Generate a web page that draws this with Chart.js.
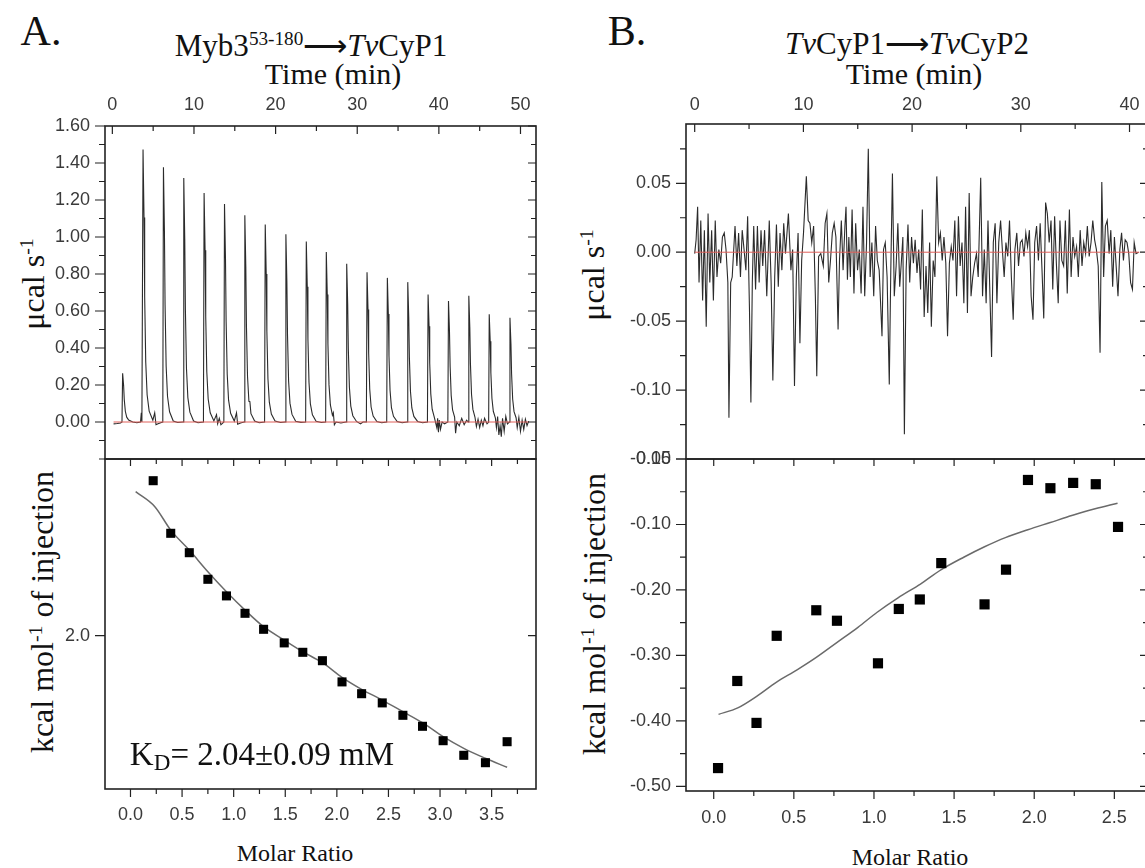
<!doctype html>
<html lang="en">
<head>
<meta charset="utf-8">
<title>ITC</title>
<style>
body{margin:0;width:1145px;height:868px;overflow:hidden;background:#fff;position:relative;font-family:"Liberation Serif","Times New Roman",serif;color:#111}
canvas{position:absolute}
.t{position:absolute;white-space:nowrap;line-height:1;transform:translate(-50%,-50%)}
.t.r{transform:translate(-50%,-50%) rotate(-90deg)}
sup{font-size:0.62em;vertical-align:0.55em;line-height:0}
sub{font-size:0.7em;vertical-align:-0.25em;line-height:0}
</style>
</head>
<body>
<div class="t" style="left:41px;top:31px;font-size:42px">A.</div>
<div class="t" style="left:311px;top:45px;font-size:31px">Myb3<sup>53-180</sup>⟶<i>Tv</i>CyP1</div>
<div class="t" style="left:333px;top:74px;font-size:30px">Time (min)</div>
<div class="t" style="left:627px;top:31px;font-size:42px">B.</div>
<div class="t" style="left:907px;top:43px;font-size:31px"><i>Tv</i>CyP1⟶<i>Tv</i>CyP2</div>
<div class="t" style="left:914px;top:74px;font-size:30px">Time (min)</div>

<div class="t r" style="left:33px;top:284px;font-size:32px">μcal s<sup>-1</sup></div>
<div class="t r" style="left:42px;top:612px;font-size:32px">kcal mol<sup>-1</sup> of injection</div>
<div class="t r" style="left:593px;top:275px;font-size:32px">μcal s<sup>-1</sup></div>
<div class="t r" style="left:594px;top:614px;font-size:32px">kcal mol<sup>-1</sup> of injection</div>

<div class="t" style="left:295px;top:853px;font-size:24px">Molar Ratio</div>
<div class="t" style="left:910px;top:857px;font-size:24px">Molar Ratio</div>

<canvas id="aTop" width="560" height="420" style="left:0;top:80px"></canvas>
<canvas id="aBot" width="560" height="448" style="left:0;top:420px"></canvas>
<canvas id="bTop" width="600" height="420" style="left:580px;top:80px"></canvas>
<canvas id="bBot" width="600" height="448" style="left:580px;top:420px"></canvas>

<div class="t" style="left:262px;top:754px;font-size:33px">K<sub>D</sub>= 2.04±0.09 mM</div>

<script src="https://cdn.jsdelivr.net/npm/chart.js@4.4.0/dist/chart.umd.min.js"></script>
<script>
// raw heat trace, Myb3 -> TvCyP1 (time min, ucal/s)
const aTrace = [
  [0.15,-0.01],[0.6,-0.008],[1.0,-0.005],
  [1.18,0.0],[1.26,0.263],[1.38,0.197],[1.46,0.121],[1.59,0.058],[1.76,0.026],[2.0,0.011],[2.5,0.0],[3.0,-0.004],[3.45,0.0],
  [3.55,0.05],[3.62,0.0],
  [3.76,1.473],[3.88,1.105],[3.96,0.678],[4.09,0.324],[4.26,0.147],[4.51,0.059],[4.96,0.01],
  [5.19,0.05],[5.35,-0.015],[5.6,-0.01],[6.0,-0.003],[6.18,0.0],
  [6.26,1.377],[6.38,1.033],[6.46,0.633],[6.59,0.303],[6.76,0.138],[7.01,0.055],[7.46,0.005],[8.0,-0.003],[8.67,0.0],
  [8.75,1.319],[8.87,0.989],[8.95,0.607],[9.08,0.29],[9.25,0.132],[9.5,0.053],[9.95,0.005],[10.5,-0.004],[11.16,0.0],
  [11.24,1.238],[11.36,0.929],[11.44,0.569],[11.57,0.272],[11.74,0.124],[11.99,0.05],[12.44,0.006],
  [12.76,0.04],[12.9,-0.01],[13.1,0.02],[13.3,-0.015],[13.66,0.0],
  [13.74,1.178],[13.86,0.884],[13.94,0.542],[14.07,0.259],[14.24,0.118],[14.49,0.047],[14.94,0.005],
  [15.21,0.05],[15.35,-0.012],[15.7,-0.005],[16.15,0.0],
  [16.23,1.118],[16.35,0.839],[16.43,0.514],[16.56,0.246],[16.73,0.112],[16.85,0.11],[16.98,0.045],[17.43,0.005],[18.0,-0.004],[18.65,0.0],
  [18.73,1.067],[18.85,0.8],[18.93,0.491],[19.06,0.235],[19.23,0.107],[19.48,0.043],[19.93,0.005],[20.6,-0.003],[21.18,0.0],
  [21.26,1.015],[21.38,0.761],[21.46,0.467],[21.59,0.223],[21.76,0.102],[22.01,0.041],[22.46,0.004],[23.1,-0.002],[23.68,0.0],
  [23.76,0.975],[23.88,0.731],[23.96,0.449],[24.09,0.215],[24.26,0.098],[24.51,0.039],[24.96,0.004],[25.6,-0.003],[26.13,0.0],
  [26.21,0.919],[26.33,0.689],[26.41,0.423],[26.54,0.202],[26.71,0.092],[26.96,0.037],
  [27.07,0.05],[27.2,-0.015],[27.4,0.0],[28.0,-0.005],[28.63,0.0],
  [28.71,0.855],[28.83,0.641],[28.91,0.393],[29.04,0.188],[29.21,0.086],[29.46,0.034],[29.91,0.003],[30.4,-0.01],[30.7,0.0],[31.12,0.0],
  [31.2,0.81],[31.32,0.608],[31.4,0.373],[31.53,0.178],[31.7,0.081],[31.95,0.032],[32.4,0.003],[33.0,-0.004],[33.61,0.0],
  [33.69,0.779],[33.81,0.584],[33.89,0.358],[34.02,0.171],[34.19,0.078],[34.44,0.031],[34.89,0.003],[35.5,-0.004],[36.11,0.0],
  [36.19,0.756],[36.31,0.567],[36.39,0.348],[36.52,0.166],[36.69,0.076],[36.94,0.03],[37.39,0.003],[38.0,-0.004],[38.6,0.0],
  [38.68,0.689],[38.8,0.517],[38.88,0.317],[39.01,0.152],[39.18,0.069],[39.43,0.028],
  [39.75,-0.03],[39.85,0.02],[39.95,-0.055],[40.05,0.01],[40.2,-0.04],[40.4,0.0],[40.7,-0.01],[41.1,0.0],
  [41.18,0.654],[41.3,0.491],[41.38,0.301],[41.51,0.144],[41.68,0.065],[41.93,0.026],
  [42.05,-0.06],[42.2,0.0],[42.5,-0.02],[42.8,0.02],[43.1,-0.015],[43.4,0.01],[43.6,0.0],
  [43.67,0.683],[43.79,0.512],[43.87,0.314],[44.0,0.15],[44.17,0.068],[44.42,0.027],
  [44.6,-0.025],[44.8,0.015],[45.0,-0.03],[45.2,0.01],[45.4,-0.02],[45.6,0.02],[45.9,-0.01],[46.1,0.0],
  [46.17,0.582],[46.29,0.437],[46.37,0.268],[46.5,0.128],[46.67,0.058],[46.92,0.023],
  [47.05,-0.03],[47.2,0.03],[47.35,-0.07],[47.5,-0.02],[47.65,-0.08],[47.8,0.02],[48.0,-0.05],[48.2,0.03],[48.4,-0.01],[48.63,0.0],
  [48.71,0.564],[48.83,0.423],[48.91,0.259],[49.04,0.124],[49.21,0.056],[49.46,0.023],
  [49.6,-0.03],[49.8,0.025],[50.0,-0.05],[50.2,0.01],[50.4,-0.04],[50.6,0.015],[50.8,-0.02],[51.0,0.005]
];
const aBase = [[0.15,0],[51.0,0]];

// integrated heats A
const aRatio = [0.22,0.39,0.57,0.75,0.93,1.11,1.29,1.49,1.67,1.86,2.05,2.24,2.44,2.64,2.83,3.03,3.23,3.44,3.65];
const aHeat = [2.775,2.512,2.415,2.282,2.199,2.112,2.032,1.964,1.917,1.875,1.769,1.710,1.664,1.602,1.547,1.475,1.402,1.365,1.470];
const aFitRatio = [0.05,0.236,0.39,0.57,0.75,0.93,1.11,1.29,1.49,1.67,1.86,2.05,2.24,2.44,2.64,2.83,3.03,3.23,3.44,3.65];
const aFitHeat = [2.72,2.645,2.528,2.428,2.32,2.22,2.128,2.045,1.978,1.92,1.865,1.792,1.732,1.678,1.62,1.565,1.495,1.437,1.387,1.342];

// raw heat trace, TvCyP1 -> TvCyP2
const bTrace = [
  [0.00,-0.001],[0.13,0.009],[0.27,0.033],[0.40,-0.022],[0.56,0.023],[0.73,-0.035],[0.89,0.016],[1.06,-0.054],[1.23,0.028],[1.39,-0.022],
  [1.56,0.016],[1.72,-0.035],[1.89,0.023],[2.05,-0.018],[2.22,0.002],[2.39,-0.008],[2.55,0.011],[2.72,0.014],[2.88,0.002],[3.05,-0.022],
  [3.15,-0.120],[3.31,-0.022],[3.45,-0.018],[3.71,0.019],[3.88,-0.010],[4.04,0.014],[4.21,-0.018],[4.37,0.016],[4.54,0.002],[4.71,-0.013],
  [4.87,0.026],[5.04,-0.042],[5.17,-0.109],[5.30,-0.022],[5.43,0.019],[5.60,-0.027],[5.77,0.019],[5.93,-0.022],[6.10,0.016],[6.26,-0.010],
  [6.43,0.016],[6.63,-0.032],[6.86,0.023],[7.03,-0.022],[7.19,-0.093],[7.36,-0.018],[7.52,0.020],[7.69,-0.025],[7.85,0.014],[8.02,-0.013],
  [8.19,0.021],[8.35,-0.001],[8.62,0.028],[8.85,-0.013],[9.01,0.002],[9.18,-0.097],[9.35,-0.018],[9.51,0.014],[9.68,-0.066],[9.84,-0.006],
  [10.01,0.014],[10.27,0.055],[10.44,0.023],[10.60,0.021],[10.77,0.007],[10.94,0.019],[11.10,-0.032],[11.23,-0.090],[11.40,-0.003],[11.60,-0.001],
  [11.83,-0.010],[12.00,0.021],[12.16,0.028],[12.33,-0.022],[12.49,-0.006],[12.66,0.014],[12.83,0.021],[12.99,0.011],[13.19,-0.056],[13.32,-0.006],
  [13.49,0.023],[13.65,-0.013],[13.82,0.019],[13.92,0.033],[14.05,-0.020],[14.18,0.011],[14.32,-0.018],[14.48,0.031],[14.65,-0.030],[14.81,0.021],
  [14.98,-0.013],[15.14,0.002],[15.31,-0.030],[15.48,0.033],[15.64,-0.032],[15.81,0.007],[15.97,0.075],[16.14,-0.018],[16.30,0.007],[16.47,-0.032],
  [16.64,0.019],[16.80,-0.006],[16.97,-0.013],[17.23,-0.061],[17.37,0.002],[17.53,0.007],[17.70,-0.018],[17.90,-0.096],[18.03,-0.018],[18.19,0.057],
  [18.36,-0.032],[18.53,-0.010],[18.69,0.021],[18.86,-0.025],[19.02,-0.006],[19.15,0.011],[19.29,-0.132],[19.45,-0.013],[19.62,0.020],[19.78,-0.022],
  [19.95,0.011],[20.12,-0.008],[20.28,0.009],[20.45,-0.015],[20.61,0.002],[20.78,-0.027],[20.94,0.031],[21.11,-0.047],[21.28,-0.010],[21.44,-0.044],
  [21.61,0.007],[21.77,-0.054],[21.94,-0.006],[22.10,-0.018],[22.27,0.055],[22.44,0.007],[22.60,0.014],[22.77,-0.006],[22.93,0.011],[23.10,-0.008],
  [23.26,-0.061],[23.43,-0.008],[23.60,0.004],[23.76,-0.006],[23.93,0.023],[24.09,-0.032],[24.26,0.026],[24.42,-0.010],[24.59,0.007],[24.76,-0.037],
  [24.92,0.033],[25.09,-0.044],[25.25,0.043],[25.42,-0.032],[25.58,-0.018],[25.75,-0.008],[25.92,-0.001],[26.08,-0.018],[26.31,0.054],[26.48,-0.032],
  [26.64,0.002],[26.81,-0.037],[26.98,0.023],[27.14,-0.025],[27.31,-0.076],[27.47,0.007],[27.64,0.021],[27.80,-0.037],[27.97,0.007],[28.14,0.023],
  [28.30,0.002],[28.47,-0.018],[28.63,0.007],[28.80,-0.003],[28.96,0.023],[29.13,-0.018],[29.30,-0.049],[29.46,0.002],[29.63,0.014],[29.79,-0.010],
  [29.96,0.007],[30.12,0.009],[30.29,-0.003],[30.46,0.014],[30.62,0.004],[30.79,0.016],[30.95,-0.032],[31.12,-0.049],[31.28,0.007],[31.45,0.019],
  [31.62,-0.006],[31.78,0.021],[31.95,-0.013],[32.11,-0.048],[32.28,0.036],[32.44,0.028],[32.61,0.007],[32.78,0.023],[32.94,-0.027],[33.11,0.026],
  [33.27,-0.008],[33.44,-0.037],[33.60,0.023],[33.77,-0.006],[33.94,-0.010],[34.10,0.023],[34.27,-0.030],[34.47,0.031],[34.63,-0.018],[34.80,0.011],
  [34.96,-0.003],[35.13,0.004],[35.29,-0.018],[35.46,0.016],[35.63,-0.010],[35.79,0.007],[35.96,-0.001],[36.12,0.019],[36.29,-0.003],[36.46,0.007],
  [36.62,0.023],[36.79,0.009],[36.95,0.002],[37.12,-0.010],[37.29,-0.073],[37.45,0.051],[37.62,-0.018],[37.78,0.019],[37.95,0.023],[38.12,-0.001],
  [38.28,0.016],[38.45,-0.025],[38.61,0.011],[38.77,-0.010],[38.94,-0.032],[39.11,0.002],[39.27,0.014],[39.44,-0.006],[39.60,0.009],[39.77,0.007],
  [39.93,-0.001],[40.10,-0.022],[40.27,-0.027],[40.43,0.007],[40.60,-0.001],[40.83,0.000]
];
const bBase = [[0.0,0],[40.9,0]];

// integrated heats B
const bRatio = [0.027,0.147,0.267,0.393,0.640,0.769,1.025,1.155,1.286,1.420,1.690,1.824,1.961,2.101,2.243,2.384,2.523];
const bHeat = [-0.472,-0.339,-0.403,-0.270,-0.231,-0.247,-0.312,-0.229,-0.2145,-0.159,-0.222,-0.169,-0.032,-0.0446,-0.0365,-0.0385,-0.1037];
const bFitRatio = [0.03,0.15,0.27,0.39,0.52,0.64,0.77,0.90,1.02,1.15,1.29,1.42,1.56,1.69,1.82,1.96,2.10,2.24,2.38,2.52];
const bFitHeat = [-0.390,-0.380,-0.362,-0.341,-0.322,-0.303,-0.280,-0.257,-0.234,-0.212,-0.191,-0.169,-0.150,-0.134,-0.120,-0.108,-0.097,-0.086,-0.076,-0.0675];

// tick labels
const aTopXTicks = [0,10,20,30,40,50];
const aTopYTicks = [0,0.2,0.4,0.6,0.8,1.0,1.2,1.4,1.6];
const aBotXTicks = [0,0.5,1.0,1.5,2.0,2.5,3.0,3.5];
const aBotYTicks = [2.0];
const bTopXTicks = [0,10,20,30,40];
const bTopYTicks = [0.05,0,-0.05,-0.10,-0.15];
const bBotXTicks = [0,0.5,1.0,1.5,2.0,2.5];
const bBotYTicks = [0,-0.1,-0.2,-0.3,-0.4,-0.5];

const pairs = a => a.map(p => ({x: p[0], y: p[1]}));
const zip = (xs, ys) => xs.map((v, i) => ({x: v, y: ys[i]}));
const tickFont = {family: '"Liberation Sans", Arial, sans-serif', size: 18};

// box + major/minor ticks on the frame, placed with the chart's own scales
const frameTicks = {
  id: 'frameTicks',
  afterDatasetsDraw(chart, args, o) {
    const ctx = chart.ctx, a = chart.chartArea;
    ctx.save();
    ctx.strokeStyle = '#222';
    ctx.lineWidth = 1.2;
    ctx.beginPath();
    marks(chart.scales.x, o.xMinor, o.xSides, true);
    marks(chart.scales.y, o.yMinor, o.ySides, false);
    ctx.stroke();
    ctx.lineWidth = 1.6;
    ctx.strokeRect(a.left, a.top, a.right - a.left, a.bottom - a.top);
    ctx.restore();

    function marks(s, step, sides, horiz) {
      const majors = s.ticks.map(t => t.value);
      const vals = majors.map(v => [v, true]);
      if (step) {
        for (let k = Math.ceil(s.min / step - 1e-6); k * step <= s.max + 1e-9; k++) {
          const v = k * step;
          if (!majors.some(m => Math.abs(m - v) < step / 10)) vals.push([v, false]);
        }
      }
      for (const [v, major] of vals) {
        const p = s.getPixelForValue(v);
        for (const [edge, dir, big, small] of sides) {
          const len = major ? big : small;
          const e = a[edge];
          if (horiz) { ctx.moveTo(p, e); ctx.lineTo(p, e + dir * len); }
          else { ctx.moveTo(e, p); ctx.lineTo(e + dir * len, p); }
        }
      }
    }
  }
};

function axis(a) {
  return {
    type: 'linear', position: a.pos, min: a.min, max: a.max,
    grid: {display: false, drawTicks: false}, border: {display: false},
    ticks: {font: tickFont, color: '#3a3a3a', padding: a.pad, autoSkip: false, maxRotation: 0, callback: a.fmt},
    afterBuildTicks: s => { s.ticks = a.ticks.map(v => ({value: v})); },
    afterFit: s => { if (s.isHorizontal()) s.height = a.size; else s.width = a.size; }
  };
}

function draw(id, o) {
  return new Chart(document.getElementById(id), {
    type: 'line',
    data: {datasets: o.datasets},
    options: {
      responsive: false, animation: false, events: [],
      layout: {padding: o.pad},
      plugins: {legend: {display: false}, tooltip: {enabled: false}, frameTicks: o.frame},
      scales: {x: axis(o.x), y: axis(o.y)}
    },
    plugins: [frameTicks]
  });
}

const red = {borderColor: '#e0605a', borderWidth: 1, pointRadius: 0};
const trace = {borderColor: '#2b2b2b', borderWidth: 1.1, pointRadius: 0, tension: 0};
const squares = {showLine: false, pointStyle: 'rect', pointRadius: 6.4, pointBackgroundColor: '#000', pointBorderWidth: 0};
const fit = {borderColor: '#6a6a6a', borderWidth: 1.5, pointRadius: 0, cubicInterpolationMode: 'monotone'};
const f2 = v => v.toFixed(2), f1 = v => v.toFixed(1), f0 = v => String(v);
const ySides = [['left', -1, 10, 6], ['right', -1, 8, 5]];

draw('aTop', {
  pad: {left: 0, top: 0, right: 24, bottom: 41},
  x: {pos: 'top', min: -0.9, max: 51.9, ticks: aTopXTicks, fmt: f0, pad: 10, size: 46},
  y: {pos: 'left', min: -0.2, max: 1.6, ticks: aTopYTicks, fmt: f2, pad: 15, size: 105},
  frame: {xMinor: 5, yMinor: 0.1, xSides: [['top', 1, 8, 5]], ySides: ySides},
  datasets: [{...red, data: pairs(aBase)}, {...trace, data: pairs(aTrace)}]
});

draw('aBot', {
  pad: {left: 0, top: 39, right: 24, bottom: 0},
  x: {pos: 'bottom', min: -0.247, max: 3.93, ticks: aBotXTicks, fmt: f1, pad: 15, size: 79},
  y: {pos: 'left', min: 1.2335, max: 2.8835, ticks: aBotYTicks, fmt: f1, pad: 15, size: 105},
  frame: {xMinor: 0.25, yMinor: 0, xSides: [['bottom', 1, 8, 5], ['top', 1, 7, 5]], ySides: ySides},
  datasets: [{...squares, data: zip(aRatio, aHeat)}, {...fit, data: zip(aFitRatio, aFitHeat)}]
});

draw('bTop', {
  pad: {left: 0, top: 0, right: 32, bottom: 41},
  x: {pos: 'top', min: -0.8, max: 41.7, ticks: bTopXTicks, fmt: f0, pad: 8, size: 44},
  y: {pos: 'left', min: -0.15, max: 0.093, ticks: bTopYTicks, fmt: f2, pad: 15, size: 106},
  frame: {xMinor: 5, yMinor: 0.025, xSides: [['top', 1, 8, 5]], ySides: ySides},
  datasets: [{...red, data: pairs(bBase)}, {...trace, data: pairs(bTrace)}]
});

draw('bBot', {
  pad: {left: 0, top: 39, right: 32, bottom: 0},
  x: {pos: 'bottom', min: -0.173, max: 2.71, ticks: bBotXTicks, fmt: f1, pad: 16, size: 77},
  y: {pos: 'left', min: -0.507, max: 0.0, ticks: bBotYTicks, fmt: f2, pad: 15, size: 106},
  frame: {xMinor: 0.25, yMinor: 0.05, xSides: [['bottom', 1, 8, 5], ['top', 1, 7, 5]], ySides: ySides},
  datasets: [{...squares, pointRadius: 7.2, data: zip(bRatio, bHeat)}, {...fit, data: zip(bFitRatio, bFitHeat)}]
});
</script>
</body>
</html>
